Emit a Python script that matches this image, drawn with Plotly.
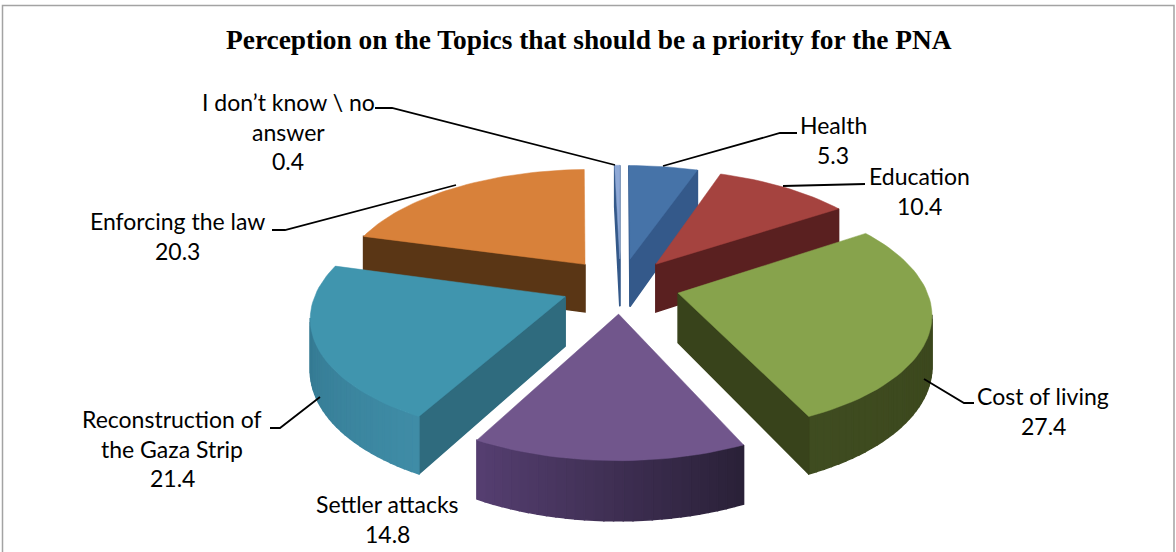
import math
import plotly.graph_objects as go

# ---- data ----
CATEGORIES = ["Health", "Education", "Cost of living", "Settler attacks",
              "Reconstruction of the Gaza Strip", "Enforcing the law", "I don't know \\ no answer"]
VALUES = [5.3, 10.4, 27.4, 14.8, 21.4, 20.3, 0.4]
TITLE = "Perception on the Topics that should be a priority for the PNA"
LABEL_LINES = [["Health"], ["Education"], ["Cost of living"], ["Settler attacks"],
               ["Reconstruction of", "the Gaza Strip"], ["Enforcing the law"],
               ["I don’t know \\ no", "answer"]]
TOP_COLORS = ["#4673a8", "#a5433f", "#87a34c", "#71568c", "#4095ae", "#d8813a", "#8fa9d6"]
WALL_START = ["#34598a", "#5a2020", "#38431b", "#2a2138", "#3f8ca6", "#5a3615", "#34598a"]
WALL_END = ["#34598a", "#5a2020", "#3f4c20", "#553e70", "#2f7088", "#5a3615", "#34598a"]
RADIAL_START = ["#34598a", "#5a2020", "#38431b", "#2a2138", "#2f6b7e", "#5a3615", "#34598a"]

# label layout: centre x and first-line y (pixels of the figure)
LABEL_X = [833, 919, 1043, 387, 172, 177, 288]
LABEL_Y = [125, 176, 396, 504, 419, 221, 102]
LINE_STEP = 29.6
LEADERS = [
    [(663, 166), (780, 133), (797, 133)],
    [(783, 186), (865, 184)],
    [(924, 379), (964, 403), (974, 403)],
    [],
    [(320, 397), (280, 428), (270, 428)],
    [(456, 185), (285, 230), (272, 230)],
    [(615, 165), (392, 108), (375, 108)],
]

# projection of the tilted pie
CX, CY, AX, BY, K, DEPTH, PULL = 620.5, 285.5, 247, 115, 0.15, 49, 0.24
DRAW_ORDER = [6, 0, 5, 1, 4, 2, 3]


def hex_rgb(c):
    return tuple(int(c[i:i + 2], 16) for i in (1, 3, 5))


def mix(a, b, t):
    ra, rb = hex_rgb(a), hex_rgb(b)
    return "rgb(%d,%d,%d)" % tuple(round(ra[i] + (rb[i] - ra[i]) * t) for i in range(3))


def project(x, y, bottom=False):
    s = 1 / (1 + K * y)
    return (CX + AX * x * s, CY - BY * y * s + (DEPTH * s if bottom else 0))


def area(poly):
    return sum(poly[i][0] * poly[(i + 1) % len(poly)][1] - poly[(i + 1) % len(poly)][0] * poly[i][1]
               for i in range(len(poly))) / 2


fig = go.Figure()


def add_poly(poly, color, width=0.5):
    fig.add_trace(go.Scatter(
        x=[p[0] for p in poly] + [poly[0][0]], y=[p[1] for p in poly] + [poly[0][1]],
        mode="lines", fill="toself", fillcolor=color, line=dict(color=color, width=width),
        hoverinfo="skip", showlegend=False))


total = sum(VALUES)
starts = [sum(VALUES[:i]) / total * 2 * math.pi for i in range(len(VALUES))]
for i in DRAW_ORDER:
    a0 = starts[i]
    a1 = a0 + VALUES[i] / total * 2 * math.pi
    mid = (a0 + a1) / 2
    ox, oy = PULL * math.sin(mid), PULL * math.cos(mid)
    n = max(2, int(VALUES[i] * 2))
    world = [(ox + math.sin(a0 + (a1 - a0) * j / n), oy + math.cos(a0 + (a1 - a0) * j / n)) for j in range(n + 1)]
    outline = [(ox, oy)] + world
    top = [project(*w) for w in outline]
    sign = area(top)
    m = len(outline)
    for j in range(m):
        w1, w2 = outline[j], outline[(j + 1) % m]
        quad = [project(*w1), project(*w2), project(*w2, True), project(*w1, True)]
        if area(quad) * sign < 0:
            if j == 0 or j == m - 1:
                col = RADIAL_START[i]
            else:
                col = mix(WALL_START[i], WALL_END[i], (j - 1) / max(1, n - 1))
            add_poly(quad, col, 1.5)
    add_poly(top, TOP_COLORS[i])

for pts in LEADERS:
    if pts:
        fig.add_trace(go.Scatter(x=[p[0] for p in pts], y=[p[1] for p in pts], mode="lines",
                                 line=dict(color="#000000", width=1.8), hoverinfo="skip", showlegend=False))

annotations = [dict(x=589, y=40, text="<b>%s</b>" % TITLE, showarrow=False, xref="x", yref="y",
                    font=dict(family="Liberation Serif", size=27.4, color="#000000"))]
for i, lines in enumerate(LABEL_LINES):
    for j, t in enumerate(lines + [str(VALUES[i])]):
        annotations.append(dict(x=LABEL_X[i], y=LABEL_Y[i] + j * LINE_STEP, text=t, showarrow=False,
                                xref="x", yref="y", font=dict(family="Lato", size=23, color="#000000")))

fig.update_layout(
    width=1176, height=552, margin=dict(l=0, r=0, t=0, b=0),
    paper_bgcolor="#ffffff", plot_bgcolor="#ffffff", showlegend=False,
    xaxis=dict(range=[0, 1176], visible=False, fixedrange=True),
    yaxis=dict(range=[552, 0], visible=False, fixedrange=True),
    annotations=annotations,
    shapes=[dict(type="rect", xref="x", yref="y", x0=2.5, y0=5.5, x1=1174, y1=600,
                 line=dict(color="#a3a3a3", width=1.5))],
)
fig.write_html("out.html", config={"displayModeBar": False},
               post_script="document.body.style.margin='0';document.body.style.overflow='hidden';")
